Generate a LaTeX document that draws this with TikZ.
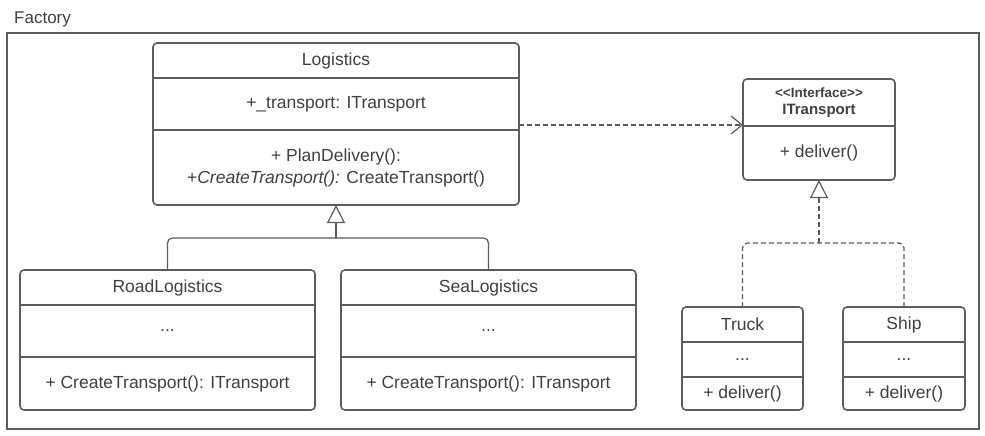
\documentclass[tikz,border=0pt]{standalone}
\usepackage{fontspec}
\setmainfont{Liberation Sans}
\usepackage{tikz}
\usetikzlibrary{arrows.meta,positioning,fit,calc}
\definecolor{UmlLine}{HTML}{5C5C5C}
\definecolor{UmlText}{HTML}{404040}
\newcommand{\stereoType}[1]{<\kern0pt<#1>\kern0pt>}
\newcommand{\umlFont}{\fontsize{17.5}{22}\selectfont}

\begin{document}
\begin{tikzpicture}[x=1pt,y=-1pt,
  part/.style={inner sep=0pt,outer sep=0pt,align=center,text=UmlText,font=\umlFont},
  cls/.style={draw=UmlLine,line width=1.6pt,rounded corners=4pt,inner sep=0pt,outer sep=0pt},
  divider/.style={draw=UmlLine,line width=1.6pt},
  link/.style={draw=UmlLine,line width=1.2pt},
  inherit/.style={link,-{Triangle[open,length=18pt,width=18pt,line width=1.2pt]}},
  realize/.style={link,dash pattern=on 5pt off 3pt,-{Triangle[open,length=18pt,width=18pt,line width=1.2pt]}},
  depend/.style={link,dash pattern=on 5pt off 3pt,-{Straight Barb[length=11pt,width=18pt,line width=1.2pt]}}
]
\useasboundingbox (0,0) rectangle (985,436);

\node[draw=UmlLine,line width=2pt,anchor=north west,minimum width=972,minimum height=396,inner sep=0pt] (factory) at (6,32) {};
\node[anchor=base west,inner sep=0pt,text=UmlText,font=\fontsize{17}{19}\selectfont] (factorylabel) at (14,24) {Factory};

\node[part,anchor=north west,minimum width=366,minimum height=35] (logtitle) at (153,43) {Logistics};
\node[part,below=0pt of logtitle,minimum width=366,minimum height=52] (logattr) {+\_transport: ITransport};
\node[part,below=0pt of logattr,minimum width=366,minimum height=75] (logops) {+ PlanDelivery():\\+\textit{CreateTransport():} CreateTransport()};
\node[cls,fit=(logtitle)(logops)] (logistics) {};
\draw[divider] (logtitle.south west) -- (logtitle.south east);
\draw[divider] (logattr.south west) -- (logattr.south east);

\node[part,anchor=north west,minimum width=295,minimum height=35] (roadtitle) at (20,270) {RoadLogistics};
\node[part,below=0pt of roadtitle,minimum width=295,minimum height=52] (roadattr) {...};
\node[part,below=0pt of roadattr,minimum width=295,minimum height=53] (roadops) {+ CreateTransport(): ITransport};
\node[cls,fit=(roadtitle)(roadops)] (road) {};
\draw[divider] (roadtitle.south west) -- (roadtitle.south east);
\draw[divider] (roadattr.south west) -- (roadattr.south east);

\node[part,right=26pt of roadtitle,minimum width=295,minimum height=35] (seatitle) {SeaLogistics};
\node[part,below=0pt of seatitle,minimum width=295,minimum height=52] (seaattr) {...};
\node[part,below=0pt of seaattr,minimum width=295,minimum height=53] (seaops) {+ CreateTransport(): ITransport};
\node[cls,fit=(seatitle)(seaops)] (sea) {};
\draw[divider] (seatitle.south west) -- (seatitle.south east);
\draw[divider] (seaattr.south west) -- (seaattr.south east);

\node[part,anchor=north west,minimum width=152,minimum height=47,font=\bfseries\fontsize{15}{17}\selectfont] (ittitle) at (743,79) {{\fontsize{13.5}{14}\selectfont\stereoType{Interface}}\\ITransport};
\node[part,below=0pt of ittitle,minimum width=152,minimum height=54] (itops) {+ deliver()};
\node[cls,fit=(ittitle)(itops)] (itransport) {};
\draw[divider] (ittitle.south west) -- (ittitle.south east);

\node[part,anchor=north west,minimum width=121,minimum height=35] (trucktitle) at (682,307) {Truck};
\node[part,below=0pt of trucktitle,minimum width=121,minimum height=35] (truckattr) {...};
\node[part,below=0pt of truckattr,minimum width=121,minimum height=33] (truckops) {+ deliver()};
\node[cls,fit=(trucktitle)(truckops)] (truck) {};
\draw[divider] (trucktitle.south west) -- (trucktitle.south east);
\draw[divider] (truckattr.south west) -- (truckattr.south east);

\node[part,right=40pt of trucktitle,minimum width=122,minimum height=35] (shiptitle) {Ship};
\node[part,below=0pt of shiptitle,minimum width=122,minimum height=35] (shipattr) {...};
\node[part,below=0pt of shipattr,minimum width=122,minimum height=33] (shipops) {+ deliver()};
\node[cls,fit=(shiptitle)(shipops)] (ship) {};
\draw[divider] (shiptitle.south west) -- (shiptitle.south east);
\draw[divider] (shipattr.south west) -- (shipattr.south east);

\coordinate (logjoin) at (logistics.south |- 0,238);
\draw[link,rounded corners=5pt] (road.north) |- (logjoin) -| (sea.north);
\draw[inherit] (logjoin) -- (logistics.south);

\coordinate (itjoin) at (itransport.south |- 0,243);
\draw[link,dash pattern=on 5pt off 3pt,rounded corners=5pt] (truck.north) |- (itjoin) -| (ship.north);
\draw[realize] (itjoin) -- (itransport.south);

\coordinate (deplevel) at (0,125);
\draw[depend] (logistics.east |- deplevel) -- (itransport.west |- deplevel);
\end{tikzpicture}
\end{document}
